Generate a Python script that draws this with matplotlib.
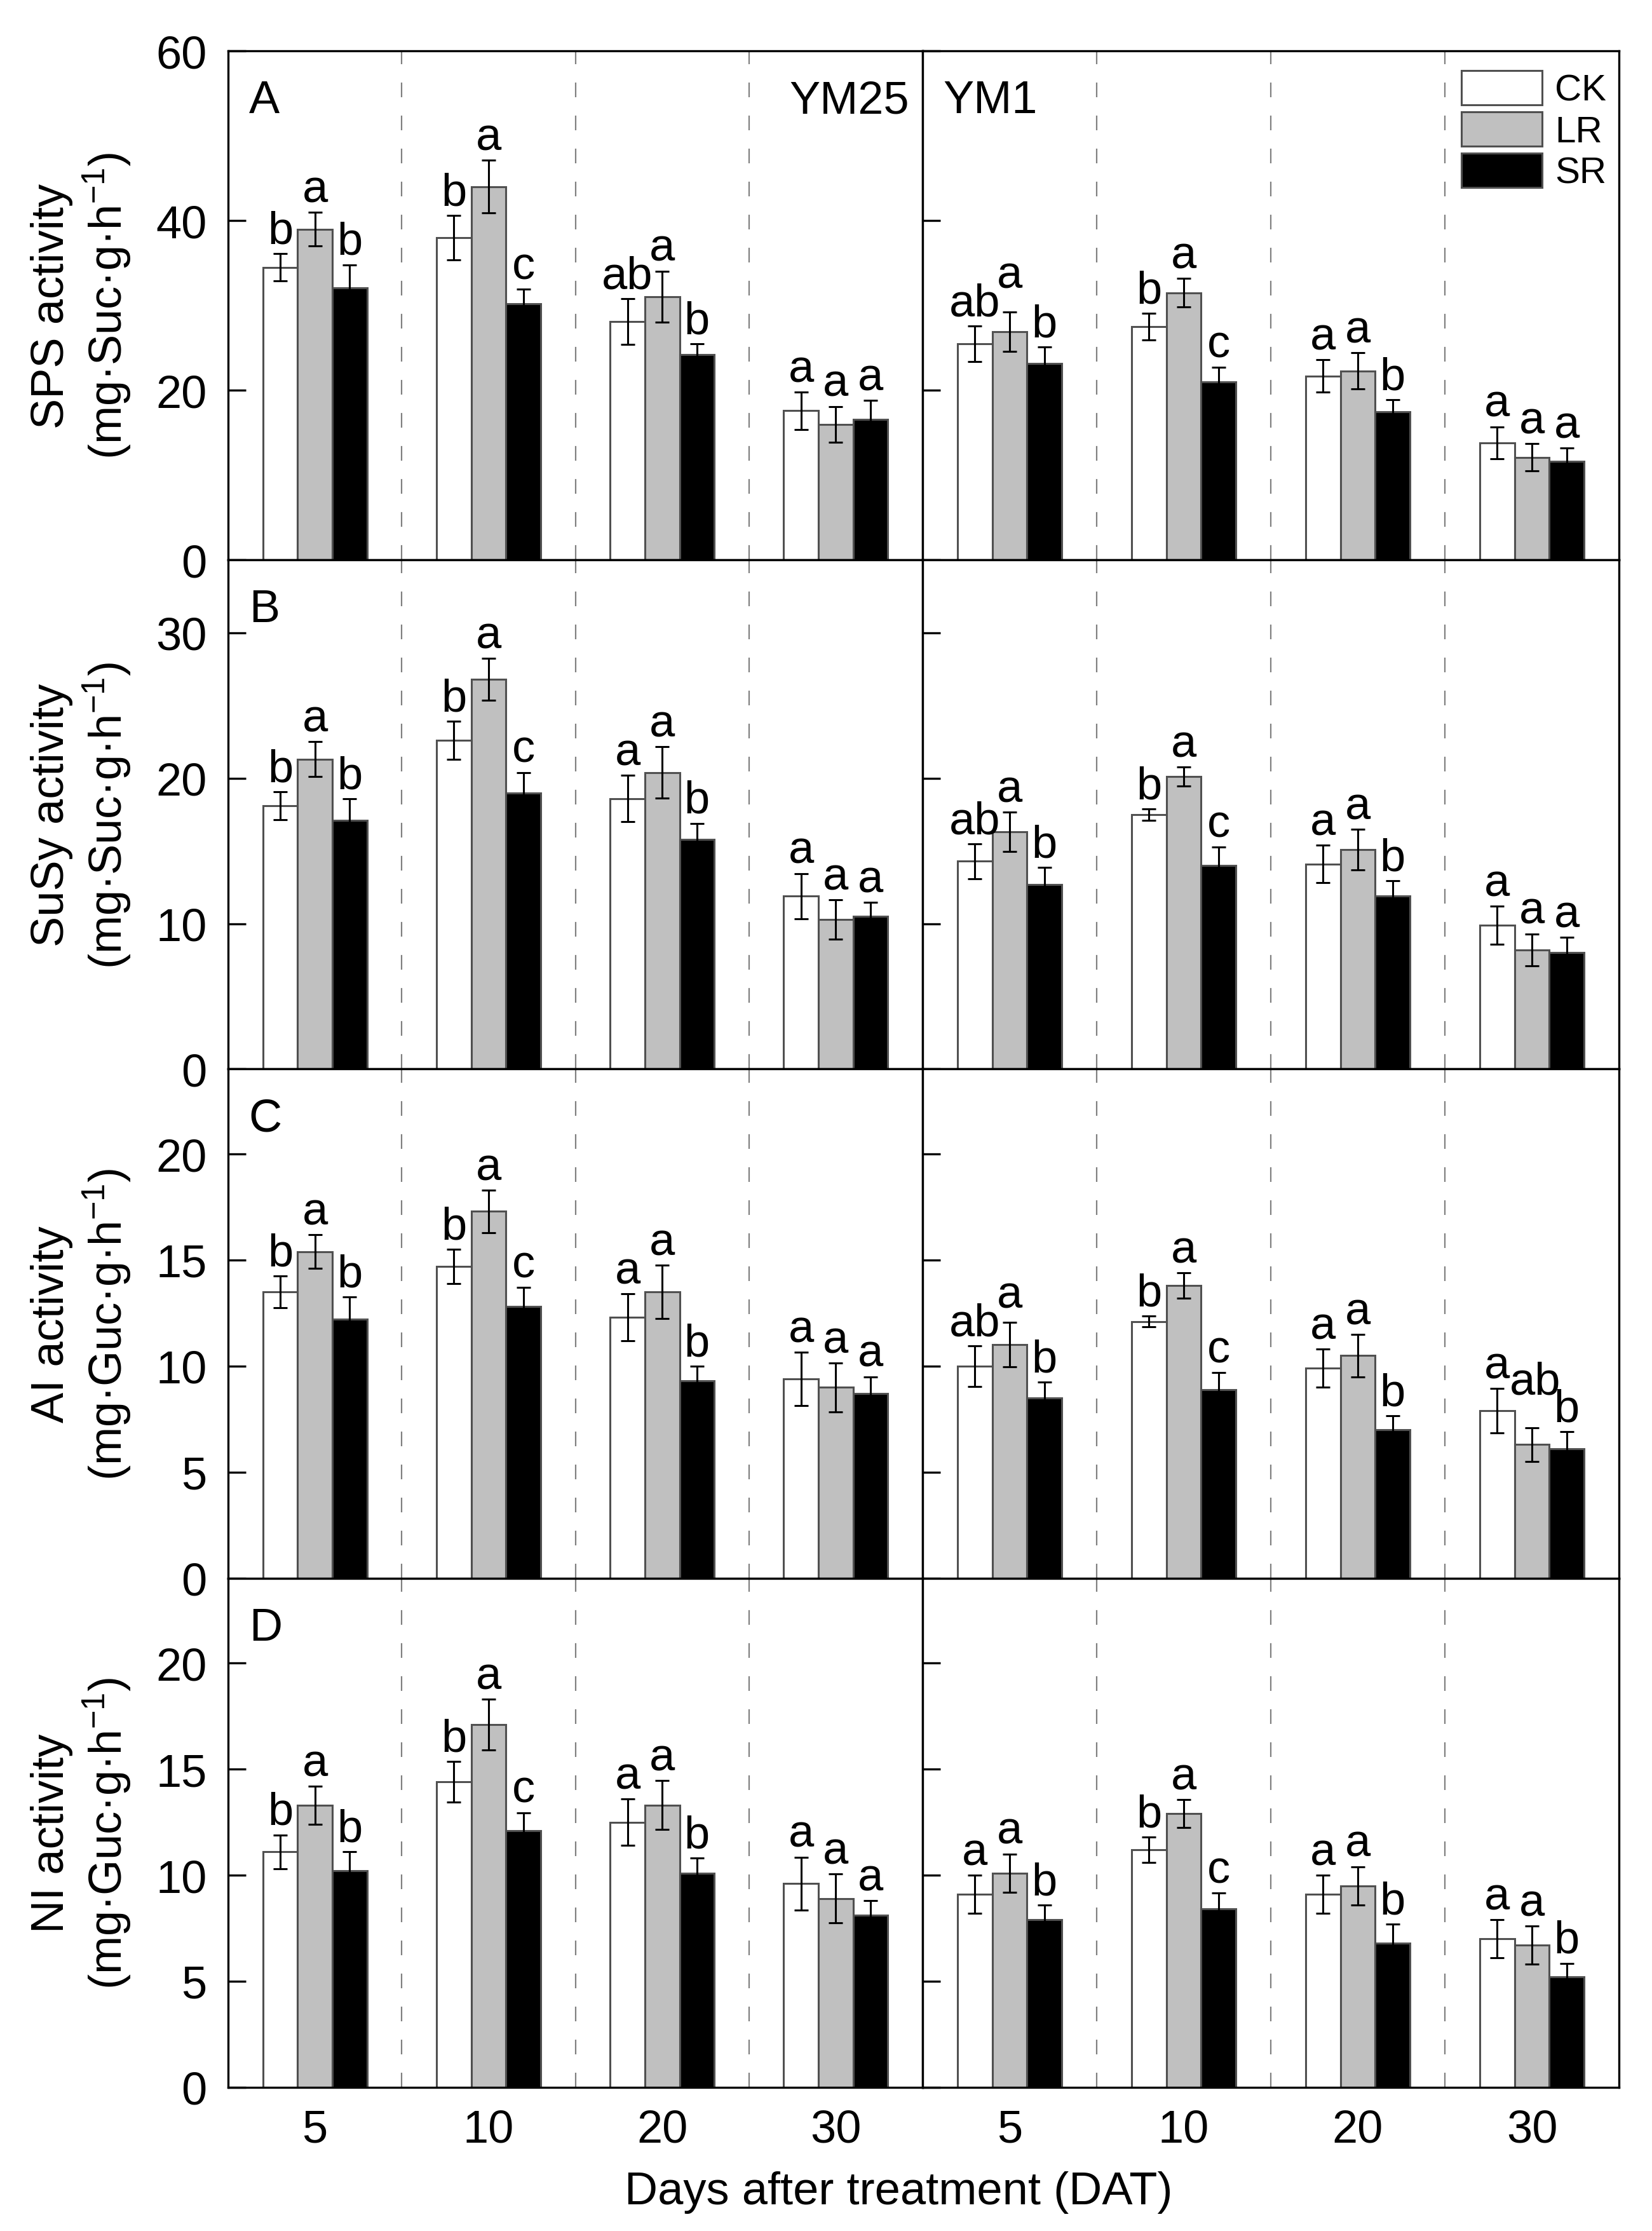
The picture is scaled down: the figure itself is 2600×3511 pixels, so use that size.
import numpy as np
import matplotlib
matplotlib.use("Agg")
import matplotlib.pyplot as plt
from matplotlib.patches import Patch

plt.rcParams['font.family'] = ['Liberation Sans', 'DejaVu Sans']
plt.rcParams['mathtext.default'] = 'regular'

# ---------------- data ----------------
days = ["5", "10", "20", "30"]
cultivars = ["YM25", "YM1"]
treatments = ["CK", "LR", "SR"]
# each list: YM25 (5,10,20,30 DAT) followed by YM1 (5,10,20,30 DAT)

sps_ck = [34.5, 38.0, 28.1, 17.6, 25.5, 27.5, 21.7, 13.8]
sps_lr = [39.0, 44.0, 31.0, 16.0, 26.9, 31.5, 22.3, 12.1]
sps_sr = [32.1, 30.2, 24.2, 16.6, 23.2, 21.0, 17.5, 11.6]
sps_ck_err = [1.6, 2.6, 2.7, 2.2, 2.1, 1.6, 1.9, 1.9]
sps_lr_err = [2.0, 3.1, 3.0, 2.1, 2.3, 1.7, 2.1, 1.6]
sps_sr_err = [2.7, 1.7, 1.3, 2.2, 1.9, 1.7, 1.4, 1.6]
sps_ck_let = ["b", "b", "ab", "a", "ab", "b", "a", "a"]
sps_lr_let = ["a", "a", "a", "a", "a", "a", "a", "a"]
sps_sr_let = ["b", "c", "b", "a", "b", "c", "b", "a"]

susy_ck = [18.1, 22.6, 18.6, 11.9, 14.3, 17.5, 14.1, 9.9]
susy_lr = [21.3, 26.8, 20.4, 10.3, 16.3, 20.1, 15.1, 8.2]
susy_sr = [17.1, 19.0, 15.8, 10.5, 12.7, 14.0, 11.9, 8.0]
susy_ck_err = [0.95, 1.3, 1.6, 1.55, 1.2, 0.4, 1.3, 1.3]
susy_lr_err = [1.2, 1.45, 1.75, 1.35, 1.35, 0.65, 1.4, 1.1]
susy_sr_err = [1.5, 1.4, 1.1, 0.95, 1.15, 1.25, 1.05, 1.05]
susy_ck_let = ["b", "b", "a", "a", "ab", "b", "a", "a"]
susy_lr_let = ["a", "a", "a", "a", "a", "a", "a", "a"]
susy_sr_let = ["b", "c", "b", "a", "b", "c", "b", "a"]

ai_ck = [13.5, 14.7, 12.3, 9.4, 10.0, 12.1, 9.9, 7.9]
ai_lr = [15.4, 17.3, 13.5, 9.0, 11.0, 13.8, 10.5, 6.3]
ai_sr = [12.2, 12.8, 9.3, 8.7, 8.5, 8.9, 7.0, 6.1]
ai_ck_err = [0.75, 0.8, 1.1, 1.25, 0.95, 0.25, 0.9, 1.05]
ai_lr_err = [0.8, 1.0, 1.25, 1.15, 1.05, 0.6, 1.0, 0.8]
ai_sr_err = [1.05, 0.9, 0.7, 0.8, 0.75, 0.8, 0.65, 0.8]
ai_ck_let = ["b", "b", "a", "a", "ab", "b", "a", "a"]
ai_lr_let = ["a", "a", "a", "a", "a", "a", "a", "ab"]
ai_sr_let = ["b", "c", "b", "a", "b", "c", "b", "b"]

ni_ck = [11.1, 14.4, 12.5, 9.6, 9.1, 11.2, 9.1, 7.0]
ni_lr = [13.3, 17.1, 13.3, 8.9, 10.1, 12.9, 9.5, 6.7]
ni_sr = [10.2, 12.1, 10.1, 8.1, 7.9, 8.4, 6.8, 5.2]
ni_ck_err = [0.8, 0.95, 1.1, 1.25, 0.9, 0.6, 0.9, 0.9]
ni_lr_err = [0.9, 1.2, 1.15, 1.15, 0.9, 0.65, 0.9, 0.9]
ni_sr_err = [0.9, 0.85, 0.7, 0.7, 0.7, 0.75, 0.9, 0.65]
ni_ck_let = ["b", "b", "a", "a", "a", "b", "a", "a"]
ni_lr_let = ["a", "a", "a", "a", "a", "a", "a", "a"]
ni_sr_let = ["b", "c", "b", "a", "b", "c", "b", "b"]

panel_letters = ["A", "B", "C", "D"]
ylabels = ["SPS activity\n(mg·Suc·g·h$^{-1}$)",
           "SuSy activity\n(mg·Suc·g·h$^{-1}$)",
           "AI activity\n(mg·Guc·g·h$^{-1}$)",
           "NI activity\n(mg·Guc·g·h$^{-1}$)"]
ylims = [60, 35, 24, 24]
yticks = [[0, 20, 40, 60], [0, 10, 20, 30], [0, 5, 10, 15, 20], [0, 5, 10, 15, 20]]

rows = [
    ([sps_ck, sps_lr, sps_sr], [sps_ck_err, sps_lr_err, sps_sr_err], [sps_ck_let, sps_lr_let, sps_sr_let]),
    ([susy_ck, susy_lr, susy_sr], [susy_ck_err, susy_lr_err, susy_sr_err], [susy_ck_let, susy_lr_let, susy_sr_let]),
    ([ai_ck, ai_lr, ai_sr], [ai_ck_err, ai_lr_err, ai_sr_err], [ai_ck_let, ai_lr_let, ai_sr_let]),
    ([ni_ck, ni_lr, ni_sr], [ni_ck_err, ni_lr_err, ni_sr_err], [ni_ck_let, ni_lr_let, ni_sr_let]),
]

# ---------------- style ----------------
fills = ["white", "#c0c0c0", "black"]
edge = "#505050"
FS = 26
bar_w = 0.2
DPI = 200
PAD_PT = 6

fig = plt.figure(figsize=(13, 17.56), dpi=DPI)
left, mid, right = 0.1381, 0.5585, 0.980
top, bottom = 0.9769, 0.0644
rh = (top - bottom) / 4

group_labels = []  # list of [CK, LR, SR] annotation triples

for r in range(4):
    means, errs, lets = rows[r]
    y0 = top - (r + 1) * rh
    axL = fig.add_axes([left, y0, mid - left, rh])
    axR = fig.add_axes([mid, y0, right - mid, rh])
    for c, ax in enumerate([axL, axR]):
        x = np.arange(len(days))
        sl = slice(c * 4, c * 4 + 4)
        anns = [[None] * 3 for _ in range(4)]
        for t in range(3):
            xs = x + (t - 1) * bar_w
            m = np.array(means[t][sl])
            e = np.array(errs[t][sl])
            ax.bar(xs, m, width=bar_w, color=fills[t], edgecolor=edge,
                   linewidth=1.1, zorder=2, label=treatments[t])
            ax.errorbar(xs, m, yerr=e, fmt='none', ecolor='black',
                        elinewidth=1.1, capsize=3.8, capthick=1.1, zorder=3)
            for g, (xi, mi, ei, L) in enumerate(zip(xs, m, e, lets[t][sl])):
                anns[g][t] = ax.annotate(L, (xi, mi + ei), xytext=(0, PAD_PT),
                                         textcoords='offset points',
                                         ha='center', va='baseline', fontsize=FS, zorder=4)
        group_labels.extend(anns)
        for xd in (0.5, 1.5, 2.5):
            ax.axvline(xd, color='#808080', lw=0.8, ls=(0, (10.4, 13)), zorder=1)
        ax.set_xlim(-0.5, 3.5)
        ax.set_ylim(0, ylims[r])
        ax.set_yticks(yticks[r])
        ax.set_xticks(x)
        ax.tick_params(direction='in', length=10, width=1.2, labelsize=FS, pad=12,
                       top=False, right=False)
        for sp in ax.spines.values():
            sp.set_linewidth(1.2)
        if r == 3:
            ax.set_xticklabels(days)
        else:
            ax.set_xticklabels([])
        if c == 1:
            ax.set_yticklabels([])
    axL.set_ylabel(ylabels[r], fontsize=FS, linespacing=1.2)
    axL.yaxis.set_label_coords(-0.136, 0.5)
    axL.text(0.030, 0.879, panel_letters[r], transform=axL.transAxes,
             fontsize=FS, ha='left', va='baseline')
    if r == 0:
        axL.text(0.981, 0.879, cultivars[0], transform=axL.transAxes,
                 fontsize=FS, ha='right', va='baseline')
        axR.text(0.029, 0.879, cultivars[1], transform=axR.transAxes,
                 fontsize=FS, ha='left', va='baseline')
        handles = [Patch(facecolor=fills[t], edgecolor=edge, linewidth=1.1, label=treatments[t])
                   for t in range(3)]
        axR.legend(handles=handles, loc='upper right', bbox_to_anchor=(0.982, 0.962),
                   frameon=False, fontsize=21, handlelength=2.18, handleheight=1.06,
                   labelspacing=0.1, handletextpad=0.34, borderpad=0, borderaxespad=0)

fig.text(0.544, 0.0122, "Days after treatment (DAT)", ha='center', va='baseline', fontsize=FS)

# raise the middle (LR) letter when it collides with a lower neighbouring letter,
# then nudge it sideways if it still touches a higher neighbour
fig.canvas.draw()
renderer = fig.canvas.get_renderer()
px_per_pt = DPI / 72.0


def overlaps(a, b):
    return (min(a.x1, b.x1) - max(a.x0, b.x0) > 0) and (min(a.y1, b.y1) - max(a.y0, b.y0) > 0)


for anns in group_labels:
    mid_ann = anns[1]
    bb_m = mid_ann.get_window_extent(renderer)
    need = 0.0
    for nb in (anns[0], anns[2]):
        bb_n = nb.get_window_extent(renderer)
        if bb_n.y0 <= bb_m.y0 and overlaps(bb_m, bb_n):
            need = max(need, bb_n.y1 - bb_m.y0 - 0.35 * (bb_m.y1 - bb_m.y0))
    if need > 0:
        dx = 0.0
        moved = bb_m.translated(0, need)
        for side, nb in ((1, anns[0]), (-1, anns[2])):
            bb_n = nb.get_window_extent(renderer)
            if bb_n.y0 > bb_m.y0 and overlaps(moved, bb_n):
                if side == 1:
                    dx = bb_n.x1 - moved.x0
                else:
                    dx = -(moved.x1 - bb_n.x0)
        mid_ann.xyann = (dx / px_per_pt, PAD_PT + need / px_per_pt)

fig.savefig("out.png", dpi=DPI)
